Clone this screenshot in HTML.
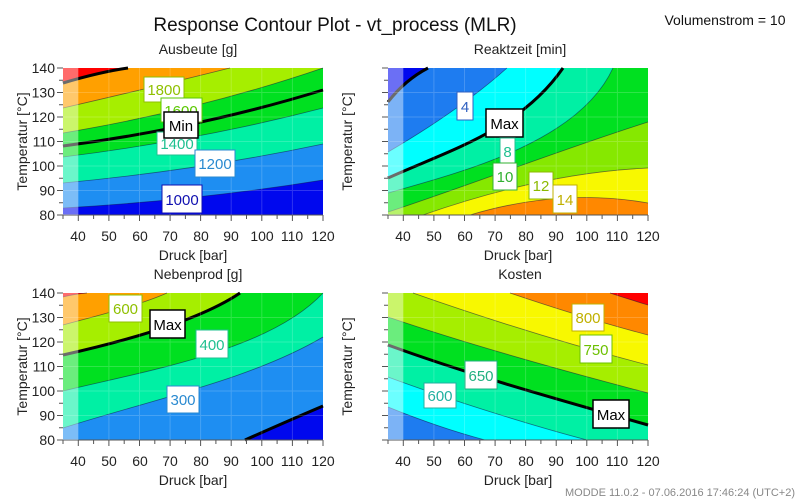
<!DOCTYPE html>
<html><head><meta charset="utf-8"><style>
html,body{margin:0;padding:0;background:#fff;}
svg{display:block;font-family:"Liberation Sans",sans-serif;}
</style></head><body>
<svg width="800" height="500" viewBox="0 0 800 500" xmlns="http://www.w3.org/2000/svg">
<defs>
<g id="axes">
<path d="M78.3,215v6M108.9,215v6M139.5,215v6M170.1,215v6M200.6,215v6M231.2,215v6M261.8,215v6M292.4,215v6M323,215v6M63,215v4M93.6,215v4M124.2,215v4M154.8,215v4M185.4,215v4M215.9,215v4M246.5,215v4M277.1,215v4M307.7,215v4M57,68h6M57,92.5h6M57,117h6M57,141.5h6M57,166h6M57,190.5h6M57,215h6M59,80.25h4M59,104.75h4M59,129.25h4M59,153.75h4M59,178.25h4M59,202.75h4M63,215h260" stroke="#555" stroke-width="1" fill="none"/>
<path d="M108.9,68V215M139.5,68V215M170.1,68V215M200.6,68V215M231.2,68V215M261.8,68V215M292.4,68V215M63,92.5H323M63,117H323M63,141.5H323M63,166H323M63,190.5H323" stroke="#fff" stroke-opacity="0.18" stroke-width="1"/>
<rect x="63" y="68" width="15.3" height="147" fill="#fff" fill-opacity="0.42"/>
</g>
<g id="xl" font-size="14" fill="#222" text-anchor="middle">
<text x="78" y="241">40</text><text x="109" y="241">50</text><text x="140" y="241">60</text><text x="170" y="241">70</text><text x="201" y="241">80</text><text x="231" y="241">90</text><text x="262" y="241">100</text><text x="292" y="241">110</text><text x="323" y="241">120</text>
<text x="193" y="260">Druck [bar]</text>
</g>
</defs>

<text x="335" y="31" font-size="19" text-anchor="middle" fill="#111">Response Contour Plot - vt_process (MLR)</text>
<text x="725" y="25" font-size="14" text-anchor="middle" fill="#111">Volumenstrom = 10</text>
<text x="795" y="496" font-size="11" text-anchor="end" fill="#888">MODDE 11.0.2 - 07.06.2016 17:46:24 (UTC+2)</text>

<!-- Panel 1: Ausbeute -->
<text x="198" y="54" font-size="14" text-anchor="middle" fill="#222">Ausbeute [g]</text>
<rect x="63" y="68" width="260" height="147" fill="#0008ee"/>
<path d="M63,208 Q200,200 323,180 L323,68 L63,68Z" fill="#1e8ef2"/>
<path d="M63,183 Q200,170 323,144 L323,68 L63,68Z" fill="#00f0a4"/>
<path d="M63,157 Q200,140 323,108 L323,68 L63,68Z" fill="#00e020"/>
<path d="M63,133 Q200,110 323,68 L63,68Z" fill="#a6ee00"/>
<path d="M63,108 Q150,88 230,68 L63,68Z" fill="#ffa000"/>
<path d="M63,83 Q100,72 128,68 L63,68Z" fill="#ff0000"/>
<g fill="none" stroke="#114" stroke-opacity="0.55" stroke-width="0.8">
<path d="M63,208 Q200,200 323,180"/><path d="M63,183 Q200,170 323,144"/><path d="M63,157 Q200,140 323,108"/><path d="M63,133 Q200,110 323,68"/><path d="M63,108 Q150,88 230,68"/>
</g>
<path d="M63,146 Q200,128 323,90" fill="none" stroke="#000" stroke-width="3"/>
<path d="M63,83 Q100,72 128,68" fill="none" stroke="#000" stroke-width="3"/>
<use href="#axes"/>
<g font-size="14" fill="#222" text-anchor="end">
<text x="55" y="73">140</text><text x="55" y="97.5">130</text><text x="55" y="122">120</text><text x="55" y="146.5">110</text><text x="55" y="171">100</text><text x="55" y="195.5">90</text><text x="55" y="220">80</text>
</g>
<text transform="translate(27,141.5) rotate(-90)" font-size="14" text-anchor="middle" fill="#222">Temperatur [°C]</text>
<use href="#xl"/>
<g font-size="15" text-anchor="middle">
<rect x="144" y="77" width="40" height="25" fill="#fff" stroke="#8fc000"/><text x="164" y="95" fill="#8fc000">1800</text>
<rect x="161" y="98" width="41" height="24" fill="#fff" stroke="#5ac800"/><text x="181" y="116" fill="#5ac800">1600</text>
<rect x="157" y="132" width="40" height="23" fill="#fff" stroke="#20c090"/><text x="177" y="149" fill="#20c090">1400</text>
<rect x="164" y="112" width="34" height="26" fill="#fff" stroke="#000" stroke-width="1.5"/><text x="181" y="131" fill="#000">Min</text>
<rect x="195" y="150" width="40" height="27" fill="#fff" stroke="#2a8ad0"/><text x="215" y="169" fill="#2a8ad0">1200</text>
<rect x="162" y="185" width="40" height="28" fill="#fff" stroke="#1010b0"/><text x="182" y="205" fill="#1010b0">1000</text>
</g>

<!-- Panel 2: Reaktzeit -->
<g transform="translate(325,0)">
<text x="195" y="54" font-size="14" text-anchor="middle" fill="#222">Reaktzeit [min]</text>
<text transform="translate(27,141.5) rotate(-90)" font-size="14" text-anchor="middle" fill="#222">Temperatur [°C]</text>
</g>
<rect x="388" y="68" width="260" height="147" fill="#0008ee"/>
<path d="M388,102 Q405,80 428,68 L648,68 L648,215 L388,215Z" fill="#1e7cf0"/>
<path d="M388,152 Q460,110 507,68 L648,68 L648,215 L388,215Z" fill="#00ffff"/>
<path d="M388,178 C450,150 520,130 563,68 L648,68 L648,215 L388,215Z" fill="#00f0a4"/>
<path d="M388,193 C470,170 580,140 613,68 L648,68 L648,215 L388,215Z" fill="#00e020"/>
<path d="M388,212 C470,185 560,150 648,122 L648,215 L388,215Z" fill="#86e800"/>
<path d="M423,215 C480,195 560,172 648,168 L648,215Z" fill="#f8f800"/>
<path d="M470,215 C520,200 580,191 648,203 L648,215Z" fill="#ff8800"/>
<g fill="none" stroke="#114" stroke-opacity="0.55" stroke-width="0.8">
<path d="M388,152 Q460,110 507,68"/><path d="M388,193 C470,170 580,140 613,68"/><path d="M388,212 C470,185 560,150 648,122"/><path d="M423,215 C480,195 560,172 648,168"/><path d="M470,215 C520,200 580,191 648,203"/>
</g>
<path d="M388,102 Q405,80 428,68" fill="none" stroke="#000" stroke-width="3"/>
<path d="M388,178 C450,150 520,130 563,68" fill="none" stroke="#000" stroke-width="3"/>
<use href="#axes" transform="translate(325,0)"/>
<use href="#xl" transform="translate(325,0)"/>
<g font-size="15" text-anchor="middle">
<rect x="457" y="92" width="16" height="28" fill="#fff" stroke="#3060c0"/><text x="465" y="112" fill="#3060c0">4</text>
<rect x="486" y="109" width="37" height="28" fill="#fff" stroke="#000" stroke-width="1.5"/><text x="504.5" y="129" fill="#000">Max</text>
<rect x="500" y="138" width="15" height="25" fill="#fff" stroke="#20c090"/><text x="507.5" y="157" fill="#20c090">8</text>
<rect x="493" y="163" width="24" height="27" fill="#fff" stroke="#30b030"/><text x="505" y="182" fill="#30b030">10</text>
<rect x="529" y="172" width="24" height="27" fill="#fff" stroke="#8cba00"/><text x="541" y="191" fill="#8cba00">12</text>
<rect x="553" y="185" width="24" height="28" fill="#fff" stroke="#c0b000"/><text x="565" y="205" fill="#c0b000">14</text>
</g>

<!-- Panel 3: Nebenprod -->
<text x="198" y="279" font-size="14" text-anchor="middle" fill="#222">Nebenprod [g]</text>
<rect x="63" y="293" width="260" height="147" fill="#1e8ef2"/>
<path d="M245,440 Q290,420 323,406 L323,440Z" fill="#0008ee"/>
<path d="M63,428 C150,400 250,380 323,337 L323,293 L63,293Z" fill="#00f0a4"/>
<path d="M63,391 C150,370 270,350 323,293 L63,293Z" fill="#00e020"/>
<path d="M63,355 C130,340 200,320 240,293 L63,293Z" fill="#a6ee00"/>
<path d="M63,325 C100,315 140,305 167,293 L63,293Z" fill="#ffa000"/>
<path d="M63,297 Q75,294 87,293 L63,293Z" fill="#ff0000"/>
<g fill="none" stroke="#114" stroke-opacity="0.55" stroke-width="0.8">
<path d="M63,428 C150,400 250,380 323,337"/><path d="M63,391 C150,370 270,350 323,293"/><path d="M63,325 C100,315 140,305 167,293"/><path d="M63,297 Q75,294 87,293"/>
</g>
<path d="M63,355 C130,340 200,320 240,293" fill="none" stroke="#000" stroke-width="3"/>
<path d="M245,440 Q290,420 323,406" fill="none" stroke="#000" stroke-width="3"/>
<use href="#axes" transform="translate(0,225)"/>
<g font-size="14" fill="#222" text-anchor="end">
<text x="55" y="298">140</text><text x="55" y="322.5">130</text><text x="55" y="347">120</text><text x="55" y="371.5">110</text><text x="55" y="396">100</text><text x="55" y="420.5">90</text><text x="55" y="445">80</text>
</g>
<text transform="translate(27,366.5) rotate(-90)" font-size="14" text-anchor="middle" fill="#222">Temperatur [°C]</text>
<use href="#xl" transform="translate(0,225)"/>
<g font-size="15" text-anchor="middle">
<rect x="109" y="295" width="33" height="27" fill="#fff" stroke="#8fc000"/><text x="125.5" y="314" fill="#8fc000">600</text>
<rect x="150" y="310" width="35" height="28" fill="#fff" stroke="#000" stroke-width="1.5"/><text x="167.5" y="330" fill="#000">Max</text>
<rect x="196" y="330" width="32" height="28" fill="#fff" stroke="#20c090"/><text x="212" y="350" fill="#20c090">400</text>
<rect x="167" y="386" width="32" height="27" fill="#fff" stroke="#2a8ad0"/><text x="183" y="405" fill="#2a8ad0">300</text>
</g>

<!-- Panel 4: Kosten -->
<text x="520" y="279" font-size="14" text-anchor="middle" fill="#222">Kosten</text>
<text transform="translate(352,366.5) rotate(-90)" font-size="14" text-anchor="middle" fill="#222">Temperatur [°C]</text>
<rect x="388" y="293" width="260" height="147" fill="#1e7cf0"/>
<path d="M388,407 C420,420 455,432 485,440 L648,440 L648,293 L388,293Z" fill="#00ffff"/>
<path d="M388,377 C450,400 530,425 587,440 L648,440 L648,293 L388,293Z" fill="#00f0a4"/>
<path d="M388,345 C470,375 560,400 648,425 L648,293 L388,293Z" fill="#00e020"/>
<path d="M388,317 C470,345 560,370 648,393 L648,293 L388,293Z" fill="#a6ee00"/>
<path d="M413,293 C490,320 570,345 648,365 L648,293Z" fill="#f8f800"/>
<path d="M510,293 C560,310 610,325 648,335 L648,293Z" fill="#ff8800"/>
<path d="M610,293 C625,298 638,302 648,305 L648,293Z" fill="#ff0000"/>
<g fill="none" stroke="#114" stroke-opacity="0.55" stroke-width="0.8">
<path d="M388,407 C420,420 455,432 485,440"/><path d="M388,377 C450,400 530,425 587,440"/><path d="M388,317 C470,345 560,370 648,393"/><path d="M413,293 C490,320 570,345 648,365"/><path d="M510,293 C560,310 610,325 648,335"/><path d="M610,293 C625,298 638,302 648,305"/>
</g>
<path d="M388,345 C470,375 560,400 648,425" fill="none" stroke="#000" stroke-width="3"/>
<use href="#axes" transform="translate(325,225)"/>
<use href="#xl" transform="translate(325,225)"/>
<g font-size="15" text-anchor="middle">
<rect x="572" y="304" width="32" height="27" fill="#fff" stroke="#c0b000"/><text x="588" y="323" fill="#c0b000">800</text>
<rect x="580" y="335" width="32" height="28" fill="#fff" stroke="#6cc000"/><text x="596" y="355" fill="#6cc000">750</text>
<rect x="465" y="361" width="32" height="28" fill="#fff" stroke="#20b080"/><text x="481" y="381" fill="#20b080">650</text>
<rect x="424" y="383" width="32" height="25" fill="#fff" stroke="#20b0a0"/><text x="440" y="401" fill="#20b0a0">600</text>
<rect x="593" y="400" width="36" height="28" fill="#fff" stroke="#000" stroke-width="1.5"/><text x="611" y="420" fill="#000">Max</text>
</g>
</svg>
</body></html>
